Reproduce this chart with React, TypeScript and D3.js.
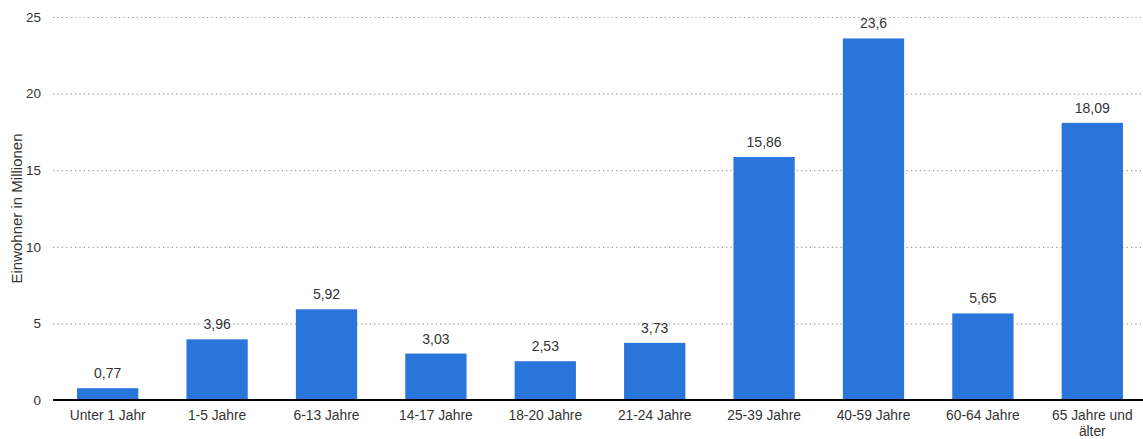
import { useRef, useEffect } from 'react'
import * as d3 from 'd3'

const WIDTH = 1143
const HEIGHT = 439
const MARGIN = { top: 17, right: -4, bottom: 39, left: 53 }

const CATEGORIES = [
  'Unter 1 Jahr', '1-5 Jahre', '6-13 Jahre', '14-17 Jahre', '18-20 Jahre',
  '21-24 Jahre', '25-39 Jahre', '40-59 Jahre', '60-64 Jahre', '65 Jahre und älter',
]
const VALUES = [0.77, 3.96, 5.92, 3.03, 2.53, 3.73, 15.86, 23.6, 5.65, 18.09]
const Y_TICKS = [0, 5, 10, 15, 20, 25]
const Y_TITLE = 'Einwohner in Millionen'

const BAR_COLOR = '#2a75db'
const TEXT_COLOR = '#333'
const FONT = 'Arial, "Liberation Sans", sans-serif'

const fmt = (v: number) => String(v).replace('.', ',')

export default function App() {
  const svgRef = useRef<SVGSVGElement>(null)

  useEffect(() => {
    if (!svgRef.current) return
    const innerW = WIDTH - MARGIN.left - MARGIN.right
    const innerH = HEIGHT - MARGIN.top - MARGIN.bottom

    const el = d3.select(svgRef.current)
    el.selectAll('*').remove()
    const svg = el.append('g').attr('transform', `translate(${MARGIN.left},${MARGIN.top})`)

    const x = d3.scaleBand().domain(CATEGORIES).range([0, innerW]).paddingInner(0.44).paddingOuter(0.22)
    const y = d3.scaleLinear().domain([0, 25]).range([innerH, 0])

    // dotted gridlines
    svg.append('g')
      .call(d3.axisLeft(y).tickValues(Y_TICKS).tickSize(-innerW).tickFormat(() => ''))
      .call((g) => {
        g.select('.domain').remove()
        g.selectAll('line').attr('stroke', '#9a9a9a').attr('stroke-dasharray', '1.2,3.2').attr('stroke-width', 1.2)
      })

    // y tick labels
    svg.append('g')
      .call(d3.axisLeft(y).tickValues(Y_TICKS).tickSize(0).tickPadding(12))
      .call((g) => {
        g.select('.domain').remove()
        g.selectAll('text').attr('fill', TEXT_COLOR).attr('font-size', '13.5px').attr('font-family', FONT)
      })

    // bars
    svg.selectAll('.bar')
      .data(VALUES)
      .join('rect')
      .attr('class', 'bar')
      .attr('x', (_, i) => x(CATEGORIES[i]) ?? 0)
      .attr('y', (d) => y(d))
      .attr('width', x.bandwidth())
      .attr('height', (d) => innerH - y(d))
      .attr('fill', BAR_COLOR)

    // value labels
    svg.selectAll('.val')
      .data(VALUES)
      .join('text')
      .attr('class', 'val')
      .attr('x', (_, i) => (x(CATEGORIES[i]) ?? 0) + x.bandwidth() / 2)
      .attr('y', (d) => y(d) - 10)
      .attr('text-anchor', 'middle')
      .attr('fill', TEXT_COLOR)
      .attr('font-size', '14px')
      .attr('font-family', FONT)
      .text((d) => fmt(d))

    // x axis baseline
    svg.append('line')
      .attr('x1', 0).attr('x2', innerW)
      .attr('y1', innerH).attr('y2', innerH)
      .attr('stroke', '#000').attr('stroke-width', 2)

    // x labels, wrapped
    const wrapped: Record<string, string[]> = { '65 Jahre und älter': ['65 Jahre und', 'älter'] }
    CATEGORIES.forEach((c) => {
      const t = svg.append('text')
        .attr('x', (x(c) ?? 0) + x.bandwidth() / 2)
        .attr('y', innerH + 20)
        .attr('text-anchor', 'middle')
        .attr('fill', TEXT_COLOR)
        .attr('font-size', '13.8px')
        .attr('font-family', FONT)
      const lines = wrapped[c] ?? [c]
      lines.forEach((ln, li) => {
        t.append('tspan')
          .attr('x', (x(c) ?? 0) + x.bandwidth() / 2)
          .attr('dy', li === 0 ? 0 : 16)
          .text(ln)
      })
    })

    // y title
    el.append('text')
      .attr('transform', `translate(22,${MARGIN.top + innerH / 2}) rotate(-90)`)
      .attr('text-anchor', 'middle')
      .attr('fill', TEXT_COLOR)
      .attr('font-size', '15px')
      .attr('font-family', FONT)
      .text(Y_TITLE)
  }, [])

  return (
    <div style={{ position: 'absolute', left: 0, top: 0 }}>
      <svg ref={svgRef} width={WIDTH} height={HEIGHT} style={{ display: 'block', background: '#fff' }} />
    </div>
  )
}
